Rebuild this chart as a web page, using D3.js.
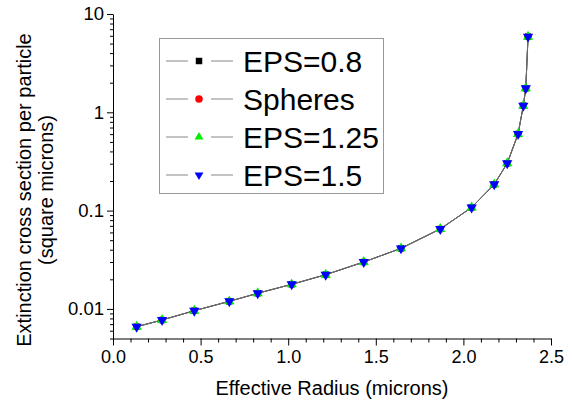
<!DOCTYPE html>
<html>
<head>
<meta charset="utf-8">
<script src="https://cdn.jsdelivr.net/npm/d3@7"></script>
<style>
  html, body { margin: 0; padding: 0; background: #fff; }
  svg { display: block; font-family: "Liberation Sans", Arial, sans-serif; }
</style>
</head>
<body>
<svg id="chart" width="572" height="403"></svg>
<script>
// ---- data ----
const radius = [0.135, 0.280, 0.464, 0.664, 0.826, 1.020, 1.214, 1.431, 1.644, 1.868, 2.047, 2.176, 2.250, 2.312, 2.342, 2.356, 2.369];
const eps08   = [0.00659, 0.00771, 0.00959, 0.01194, 0.01442, 0.01778, 0.02228, 0.0300, 0.0413, 0.0650, 0.1076, 0.185, 0.303, 0.601, 1.167, 1.754, 5.88];
const spheres = [0.00659, 0.00771, 0.00959, 0.01194, 0.01442, 0.01778, 0.02228, 0.0300, 0.0413, 0.0650, 0.1076, 0.185, 0.303, 0.601, 1.167, 1.754, 5.88];
const eps125  = [0.00659, 0.00771, 0.00959, 0.01194, 0.01442, 0.01778, 0.02228, 0.0300, 0.0413, 0.0650, 0.1076, 0.185, 0.303, 0.601, 1.167, 1.754, 5.88];
const eps15   = [0.00659, 0.00771, 0.00959, 0.01194, 0.01442, 0.01778, 0.02228, 0.0300, 0.0413, 0.0650, 0.1076, 0.185, 0.303, 0.601, 1.167, 1.754, 5.88];
const seriesNames = ["EPS=0.8", "Spheres", "EPS=1.25", "EPS=1.5"];
const xTickLabels = ["0.0", "0.5", "1.0", "1.5", "2.0", "2.5"];
const xTicks = [0, 0.5, 1.0, 1.5, 2.0, 2.5];
const yTicks = [0.01, 0.1, 1, 10];
const yTickLabels = ["0.01", "0.1", "1", "10"];
const xTitle = "Effective Radius (microns)";
const yTitle = ["Extinction cross section per particle", "(square microns)"];

// ---- setup ----
const svg = d3.select("#chart");
const font = "'Liberation Sans', Arial, sans-serif";
const x = d3.scaleLinear().domain([0, 2.5]).range([113, 551]);
const y = d3.scaleLog().domain([0.005, 10]).range([338.5, 14]);

// minor ticks
const xMinor = d3.range(0, 26).map(i => i / 10).filter(v => Math.abs(v * 2 - Math.round(v * 2)) > 1e-6);
const yMinor = [];
[0.001, 0.01, 0.1, 1].forEach(d => { for (let k = 2; k <= 9; k++) { const v = k * d; if (v >= 0.005 - 1e-9 && v < 10) yMinor.push(v); } });

// x axis
const gx = svg.append("g").attr("transform", "translate(0,338.5)");
gx.call(d3.axisBottom(x).tickValues(xTicks).tickSize(7).tickSizeOuter(0)
  .tickFormat((d, i) => xTickLabels[i]));
gx.append("g").call(d3.axisBottom(x).tickValues(xMinor).tickSize(4).tickSizeOuter(0).tickFormat(""))
  .select(".domain").remove();
gx.selectAll("text").attr("font-size", 18).attr("font-family", font).attr("fill", "#000").attr("dy", "0.75em").attr("y", 11);

// y axis
const gy = svg.append("g").attr("transform", "translate(113,0)");
gy.call(d3.axisLeft(y).tickValues(yTicks).tickSize(6).tickSizeOuter(0)
  .tickFormat((d, i) => yTickLabels[i]));
gy.append("g").call(d3.axisLeft(y).tickValues(yMinor).tickSize(3).tickSizeOuter(0).tickFormat(""))
  .select(".domain").remove();
gy.selectAll("text").attr("font-size", 18.5).attr("font-family", font).attr("fill", "#000").attr("x", -9);
svg.selectAll(".domain, .tick line").attr("stroke", "#000").attr("stroke-width", 1);

// titles
svg.append("text").attr("x", 332).attr("y", 395).attr("text-anchor", "middle")
  .attr("font-size", 20).attr("font-family", font).text(xTitle);
const yt = svg.append("text").attr("transform", "translate(0,190) rotate(-90)")
  .attr("text-anchor", "middle").attr("font-size", 20).attr("font-family", font);
yt.append("tspan").attr("x", 0).attr("y", 31).text(yTitle[0]);
yt.append("tspan").attr("x", 0).attr("y", 53).text(yTitle[1]);

// lines
const allSeries = [eps08, spheres, eps125, eps15];
const lineColors = ["#222", "#555", "#777", "#666"];
const line = d3.line().x(d => x(d[0])).y(d => y(d[1]));
allSeries.forEach((s, i) => {
  svg.append("path").datum(radius.map((r, j) => [r, s[j]]))
    .attr("fill", "none").attr("stroke", lineColors[i]).attr("stroke-width", 0.9)
    .attr("d", line);
});

// markers
const sq = d3.symbol().type(d3.symbolSquare).size(40);
const ci = d3.symbol().type(d3.symbolCircle).size(40);
const tri = d3.symbol().type(d3.symbolTriangle).size(46);
const markerDefs = [
  { path: sq(), color: "#000", rot: 0 },
  { path: ci(), color: "#ff0000", rot: 0 },
  { path: tri(), color: "#00ee00", rot: 0 },
  { path: tri(), color: "#0000ff", rot: 180 }
];
allSeries.forEach((s, i) => {
  const m = markerDefs[i];
  svg.append("g").selectAll("path").data(radius.map((r, j) => [r, s[j]])).join("path")
    .attr("d", m.path).attr("fill", m.color)
    .attr("transform", d => `translate(${x(d[0])},${y(d[1])}) rotate(${m.rot})`);
});

// legend
const lg = svg.append("g");
lg.append("rect").attr("x", 159.5).attr("y", 38.5).attr("width", 224).attr("height", 155)
  .attr("fill", "#fff").attr("stroke", "#999").attr("stroke-width", 1);
const legSyms = [
  d3.symbol().type(d3.symbolSquare).size(42)(),
  d3.symbol().type(d3.symbolCircle).size(44)(),
  d3.symbol().type(d3.symbolTriangle).size(34)(),
  d3.symbol().type(d3.symbolTriangle).size(34)()
];
seriesNames.forEach((name, i) => {
  const cy = 61 + i * 38;
  const g = lg.append("g");
  g.append("line").attr("x1", 166).attr("x2", 188).attr("y1", cy).attr("y2", cy).attr("stroke", "#888").attr("stroke-width", 1);
  g.append("line").attr("x1", 211).attr("x2", 233).attr("y1", cy).attr("y2", cy).attr("stroke", "#888").attr("stroke-width", 1);
  g.append("path").attr("d", legSyms[i]).attr("fill", markerDefs[i].color)
    .attr("transform", `translate(199,${cy}) rotate(${markerDefs[i].rot})`);
  g.append("text").attr("x", 243).attr("y", cy + 11).attr("font-size", 30)
    .attr("font-family", font).attr("fill", "#000").text(name);
});
</script>
</body>
</html>
